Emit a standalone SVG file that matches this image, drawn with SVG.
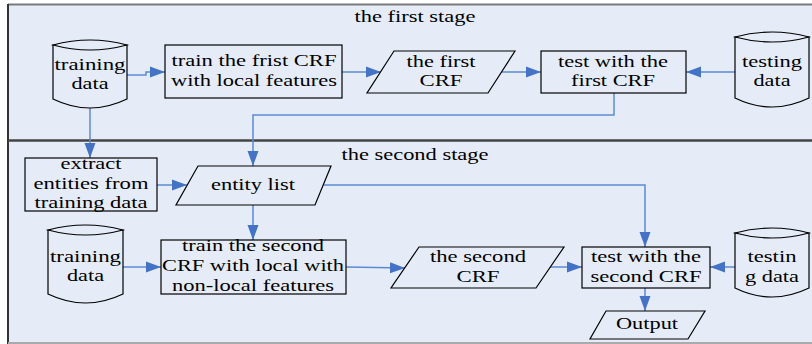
<svg xmlns="http://www.w3.org/2000/svg" width="812" height="344" viewBox="0 0 812 344">
<style>
text{font-family:"Liberation Serif","Times New Roman",serif;font-size:16px;fill:#000;text-anchor:middle}
.n{fill:#E6ECF7;stroke:#000;stroke-width:1.2}
.c{fill:none;stroke:#5B8AD3;stroke-width:1.5;marker-end:url(#ah)}
</style>
<defs>
<marker id="ah" markerUnits="userSpaceOnUse" markerWidth="16" markerHeight="12" refX="15" refY="6" orient="auto">
<path d="M0,0.5 L15,6 L0,11.5 Z" fill="#4472C4"/>
</marker>
</defs>
<g id="background">
<rect x="8" y="4" width="806" height="340" fill="#E6ECF7"/>
<line x1="8" y1="4.5" x2="812" y2="4.5" stroke="#7A7A7A" stroke-width="2"/>
<line x1="8" y1="4" x2="8" y2="344" stroke="#333" stroke-width="2"/>
<line x1="8" y1="140.5" x2="812" y2="140.5" stroke="#444" stroke-width="2.5"/>
<line x1="8" y1="343" x2="812" y2="343" stroke="#AAAAAA" stroke-width="2"/>
<text x="415" y="22" textLength="121" lengthAdjust="spacingAndGlyphs">the first stage</text>
<text x="415" y="160" textLength="147" lengthAdjust="spacingAndGlyphs">the second stage</text>
</g>
<g id="connectors">
<path class="c" d="M127,75 L146,75 L146,72 L165,72"/>
<path class="c" d="M342,72 L381,72"/>
<path class="c" d="M501,72 L541,72"/>
<path class="c" d="M735,72 L686,72"/>
<path class="c" d="M614,93 L614,115 L253,115 L253,166"/>
<path class="c" d="M90,108 L90,158"/>
<path class="c" d="M157,185 L187,185"/>
<path class="c" d="M323,185 L645,185 L645,247"/>
<path class="c" d="M253,205 L253,240"/>
<path class="c" d="M123,267 L161,267"/>
<path class="c" d="M346,267 L405,268"/>
<path class="c" d="M550,267 L582,267"/>
<path class="c" d="M735,267 L710,267"/>
<path class="c" d="M645,288 L645,311"/>
</g>
<g id="training-data-1">
<path class="n" d="M53,45 L53,99 Q90,117 127,99 L127,45 Z"/>
<path class="n" d="M53,45 Q90,35 127,45 Q90,55 53,45 Z"/>
<text x="90" y="70" textLength="71" lengthAdjust="spacingAndGlyphs">training</text>
<text x="90" y="89" textLength="37" lengthAdjust="spacingAndGlyphs">data</text>
</g>
<g id="train-first-crf">
<rect class="n" x="165" y="45" width="177" height="53"/>
<text x="254" y="66" textLength="165" lengthAdjust="spacingAndGlyphs">train the frist CRF</text>
<text x="254" y="86" textLength="166" lengthAdjust="spacingAndGlyphs">with local features</text>
</g>
<g id="first-crf">
<polygon class="n" points="394,51 515,51 488,93 367,93"/>
<text x="441" y="67" textLength="69" lengthAdjust="spacingAndGlyphs">the first</text>
<text x="441" y="86" textLength="43" lengthAdjust="spacingAndGlyphs">CRF</text>
</g>
<g id="test-first-crf">
<rect class="n" x="541" y="51" width="145" height="42"/>
<text x="613" y="67" textLength="110" lengthAdjust="spacingAndGlyphs">test with the</text>
<text x="613" y="86" textLength="84" lengthAdjust="spacingAndGlyphs">first CRF</text>
</g>
<g id="testing-data-1">
<path class="n" d="M735,37 L735,98 Q772,116 809,98 L809,37 Z"/>
<path class="n" d="M735,37 Q772,27 809,37 Q772,47 735,37 Z"/>
<text x="772" y="67" textLength="60" lengthAdjust="spacingAndGlyphs">testing</text>
<text x="772" y="86" textLength="37" lengthAdjust="spacingAndGlyphs">data</text>
</g>
<g id="extract-entities">
<rect class="n" x="25" y="158" width="132" height="53"/>
<text x="91" y="169" textLength="61" lengthAdjust="spacingAndGlyphs">extract</text>
<text x="91" y="189" textLength="115" lengthAdjust="spacingAndGlyphs">entities from</text>
<text x="91" y="208" textLength="113" lengthAdjust="spacingAndGlyphs">training data</text>
</g>
<g id="entity-list">
<polygon class="n" points="198,166 331,166 315,205 176,205"/>
<text x="253" y="190" textLength="84" lengthAdjust="spacingAndGlyphs">entity list</text>
</g>
<g id="training-data-2">
<path class="n" d="M48,230 L48,294 Q85.5,312 123,294 L123,230 Z"/>
<path class="n" d="M48,230 Q85.5,220 123,230 Q85.5,240 48,230 Z"/>
<text x="85.5" y="262" textLength="71" lengthAdjust="spacingAndGlyphs">training</text>
<text x="85.5" y="281" textLength="37" lengthAdjust="spacingAndGlyphs">data</text>
</g>
<g id="train-second-crf">
<rect class="n" x="161" y="240" width="185" height="54"/>
<text x="253" y="251" textLength="142" lengthAdjust="spacingAndGlyphs">train the second</text>
<text x="253" y="271" textLength="182" lengthAdjust="spacingAndGlyphs">CRF with local with</text>
<text x="253" y="291" textLength="162" lengthAdjust="spacingAndGlyphs">non-local features</text>
</g>
<g id="second-crf">
<polygon class="n" points="419,247 564,247 536,288 391,288"/>
<text x="478" y="262" textLength="96" lengthAdjust="spacingAndGlyphs">the second</text>
<text x="478" y="282" textLength="43" lengthAdjust="spacingAndGlyphs">CRF</text>
</g>
<g id="test-second-crf">
<rect class="n" x="582" y="247" width="128" height="41"/>
<text x="646" y="262" textLength="110" lengthAdjust="spacingAndGlyphs">test with the</text>
<text x="646" y="282" textLength="111" lengthAdjust="spacingAndGlyphs">second CRF</text>
</g>
<g id="testing-data-2">
<path class="n" d="M735,233 L735,288 Q772,306 809,288 L809,233 Z"/>
<path class="n" d="M735,233 Q772,223 809,233 Q772,243 735,233 Z"/>
<text x="772" y="262" textLength="49" lengthAdjust="spacingAndGlyphs">testin</text>
<text x="772" y="282" textLength="54" lengthAdjust="spacingAndGlyphs">g data</text>
</g>
<g id="output">
<polygon class="n" points="606,311 705,311 688,339 590,339"/>
<text x="647" y="329" textLength="62" lengthAdjust="spacingAndGlyphs">Output</text>
</g>
</svg>
